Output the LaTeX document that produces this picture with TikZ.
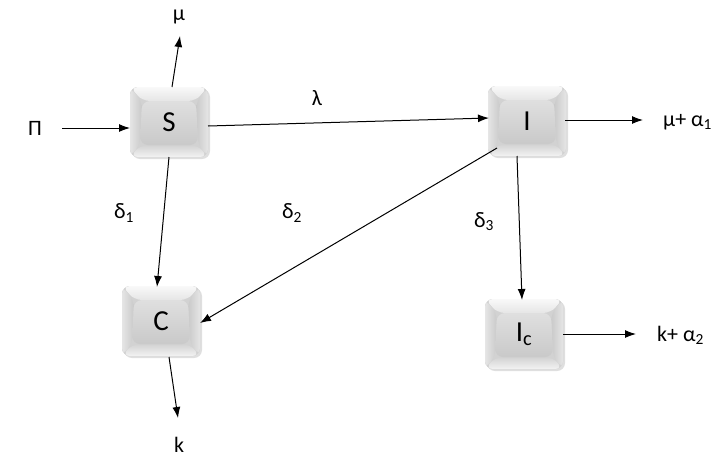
\documentclass[tikz,border=0pt]{standalone}
\usepackage{fontspec}
\setmainfont{Carlito}
\usetikzlibrary{arrows.meta,calc,shadows}
\begin{document}
\begin{tikzpicture}[x=1pt,y=-1pt,
  arr/.style={-{Latex[length=11pt,width=8pt]},line width=1pt},
  lbl/.style={font=\fontsize{22}{22}\selectfont,inner sep=1pt},
  keybox/.style={minimum width=78pt,minimum height=70pt,rounded corners=8pt,
    fill=gray!35,font=\fontsize{29}{29}\selectfont,
    drop shadow={opacity=0.25,shadow xshift=2pt,shadow yshift=-2pt},
    path picture={
      \coordinate (nw) at (path picture bounding box.north west);
      \coordinate (se) at (path picture bounding box.south east);
      \coordinate (ne) at (path picture bounding box.north east);
      \coordinate (sw) at (path picture bounding box.south west);
      \coordinate (inw) at ($(nw)+(12,14)$);
      \coordinate (ine) at ($(ne)+(-12,14)$);
      \coordinate (ise) at ($(se)+(-10,-12)$);
      \coordinate (isw) at ($(sw)+(10,-12)$);
      \fill[top color=gray!5,bottom color=gray!20] (nw) -- (ne) -- (ine) -- (inw) -- cycle;
      \fill[left color=gray!20,right color=gray!42] (nw) -- (inw) -- (isw) -- (sw) -- cycle;
      \fill[left color=gray!42,right color=gray!20] (ne) -- (ine) -- (ise) -- (se) -- cycle;
      \fill[top color=gray!35,bottom color=gray!10] (sw) -- (isw) -- (ise) -- (se) -- cycle;
      \fill[top color=gray!25,bottom color=gray!42] (inw) -- (ine) -- (ise) -- (isw) -- cycle;
    }}]
\useasboundingbox (0,0) rectangle (712,459);
\fill[white] (0,0) rectangle (712,459);

\node[keybox] (S) at (169,122) {S};
\node[keybox] (I) at (527,121) {I};
\node[keybox] (C) at (161,321) {C};
\node[keybox] (Ic) at (524,334) {I\textsubscript{c}};

\node[lbl] (Pi) at (35,128) {Π};
\node[lbl] (mu) at (179,17) {μ};
\node[lbl] (lam) at (317,98) {λ};
\node[lbl,anchor=west] (muA) at (662,122) {μ+ α\textsubscript{1}};
\node[lbl,anchor=west] (kA) at (656,335) {k+ α\textsubscript{2}};
\node[lbl] (k) at (179,445) {k};
\node[lbl] (d1) at (124,213) {δ\textsubscript{1}};
\node[lbl] (d2) at (292,213) {δ\textsubscript{2}};
\node[lbl] (d3) at (484,222) {δ\textsubscript{3}};

\coordinate (pis) at (62,128);
\coordinate (pie) at (130,128);
\coordinate (mus) at (172,87);
\coordinate (mue) at (180,36);
\coordinate (sis) at (208,126);
\coordinate (sie) at (489,118);
\coordinate (scs) at (169,157);
\coordinate (sce) at (157,287);
\coordinate (ics) at (497,148);
\coordinate (ice) at (200,323);
\coordinate (iis) at (517,156);
\coordinate (iie) at (522,300);
\coordinate (ims) at (565,120);
\coordinate (ime) at (643,120);
\coordinate (iks) at (563,334);
\coordinate (ike) at (636,334);
\coordinate (cks) at (169,357);
\coordinate (cke) at (178,418);

\draw[arr] (pis) -- (pie);
\draw[arr] (mus) -- (mue);
\draw[arr] (sis) -- (sie);
\draw[arr] (scs) -- (sce);
\draw[arr] (ics) -- (ice);
\draw[arr] (iis) -- (iie);
\draw[arr] (ims) -- (ime);
\draw[arr] (iks) -- (ike);
\draw[arr] (cks) -- (cke);
\end{tikzpicture}
\end{document}
